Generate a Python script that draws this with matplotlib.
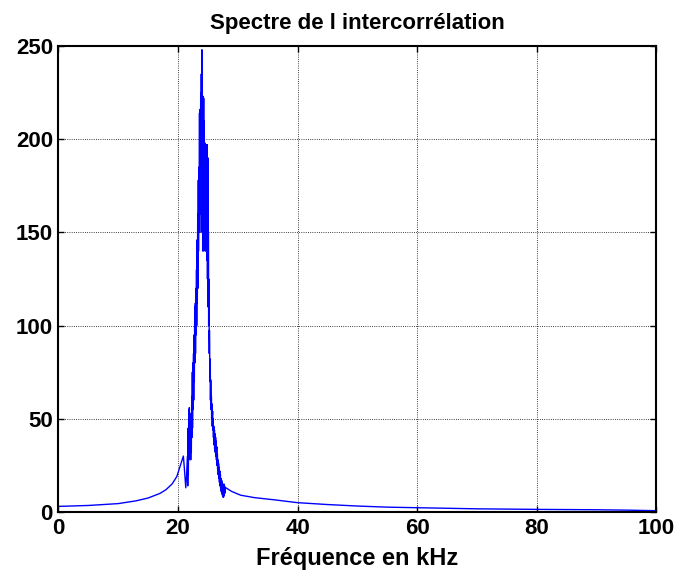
import numpy as np
import matplotlib.pyplot as plt

# smooth parts of the spectrum (kHz, magnitude)
left_khz = [0, 5, 10, 13, 15, 17, 18, 19, 19.8, 20.3, 20.7, 20.9, 21.1, 21.3, 21.45]
left_mag = [3.0, 3.5, 4.5, 6.0, 7.5, 10, 12, 15, 19, 24, 28, 30, 22, 13, 20]

# noisy peak: upper / lower envelope every 0.1 kHz from 21.6 to 27.8 kHz
peak_start_khz = 21.6
peak_hi = [30, 45, 55, 56, 50, 47, 53, 62, 75, 80, 85, 95, 110, 112, 120, 130,
           146, 160, 178, 185, 214, 216, 225, 235, 248, 223, 223, 222, 210, 198,
           190, 180, 197, 197, 190, 150, 110, 90, 82, 70, 62, 58, 54, 50, 46, 44,
           42, 40, 38, 35, 31, 28, 26, 24, 22, 20, 18, 17, 16, 15, 14, 15, 14]
peak_lo = [14, 20, 28, 38, 30, 28, 32, 40, 45, 55, 60, 70, 80, 85, 95, 100,
           112, 120, 140, 150, 150, 160, 160, 170, 150, 140, 145, 140, 150, 145,
           140, 140, 135, 125, 110, 100, 85, 70, 60, 55, 50, 46, 44, 40, 36, 34,
           32, 30, 28, 25, 23, 20, 18, 16, 14, 13, 11, 10, 9, 8, 8, 9, 10]

right_khz = [28.0, 28.5, 29.0, 30.5, 32.8, 36.2, 40, 45, 50, 55, 60, 65, 70, 80, 90, 95, 100]
right_mag = [13, 12, 11, 9, 7.7, 6.5, 5.0, 4.0, 3.2, 2.6, 2.3, 2.0, 1.7, 1.4, 1.2, 1.0, 0.7]

# build the plotted series: zigzag between the two envelopes in the peak
freq_khz = list(left_khz)
magnitude = list(left_mag)
for i, (hi, lo) in enumerate(zip(peak_hi, peak_lo)):
    f = peak_start_khz + 0.1 * i
    freq_khz += [f, f + 0.03, f + 0.06]
    magnitude += [hi, lo, (hi + lo) / 2]
freq_khz += right_khz
magnitude += right_mag

plt.rcParams['font.family'] = ['Liberation Sans', 'DejaVu Sans']
plt.rcParams['font.weight'] = 'bold'

fig = plt.figure(figsize=(6.77, 5.78), dpi=100)
ax = fig.add_axes([0.0864, 0.1142, 0.8826, 0.8062])

ax.plot(freq_khz, magnitude, color='#0000ff', linewidth=1.0)

ax.set_xlim(0, 100)
ax.set_ylim(0, 250)
ax.set_xticks(np.arange(0, 101, 20))
ax.set_yticks(np.arange(0, 251, 50))
ax.tick_params(direction='in', top=True, right=True, length=4, width=1,
               labelsize=16, pad=4)
for lbl in ax.get_xticklabels() + ax.get_yticklabels():
    lbl.set_fontweight('bold')
ax.grid(True, color='black', linestyle=':', linewidth=0.6)
for sp in ax.spines.values():
    sp.set_linewidth(1.5)

ax.set_title('Spectre de l intercorrélation', fontsize=16, fontweight='bold', pad=12)
ax.set_xlabel('Fréquence en kHz', fontsize=17, fontweight='bold', labelpad=6)

fig.savefig('out.png', dpi=100)
